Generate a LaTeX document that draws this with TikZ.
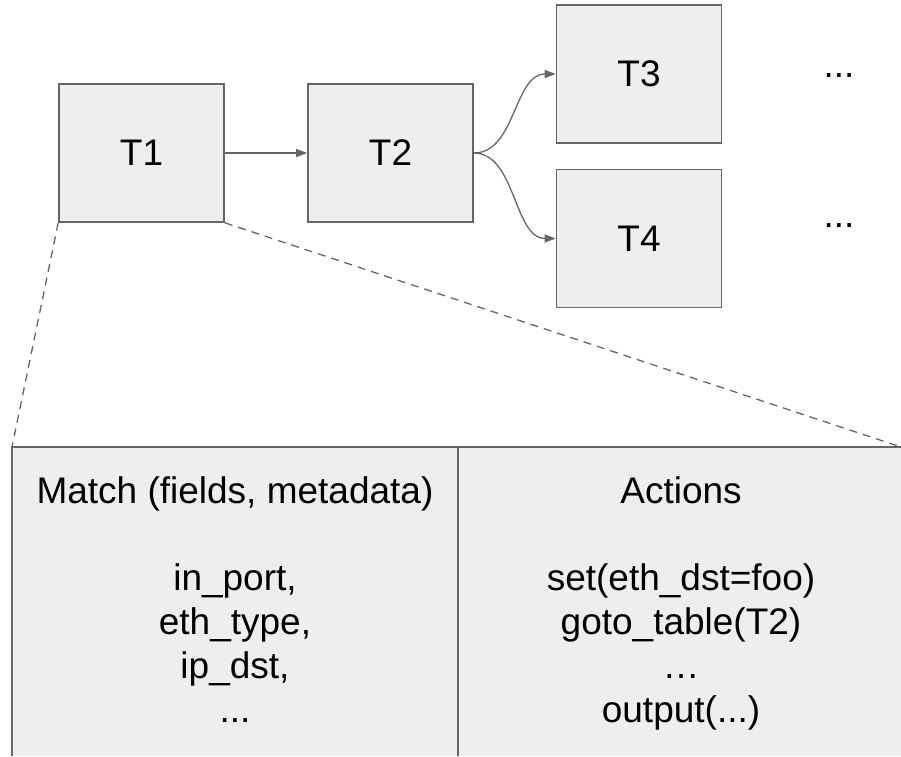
\documentclass[tikz,border=0pt]{standalone}
\usepackage{fontspec}
\setmainfont{Liberation Sans}
\usetikzlibrary{arrows.meta}
\definecolor{boxfill}{HTML}{EEEEEE}
\definecolor{edgegray}{HTML}{666666}
\begin{document}
\begin{tikzpicture}[x=1pt,y=-1pt,
  tbl/.style={draw=edgegray, fill=boxfill, line width=1.6pt, minimum width=165pt, minimum height=138pt, inner sep=0pt, font=\fontsize{37}{43}\selectfont},
  conn/.style={draw=edgegray, line width=1.3pt, -{Triangle[length=11pt,width=8pt]}},
  zoomline/.style={draw=edgegray, line width=1.3pt, dash pattern=on 8pt off 6pt},
  big/.style={font=\fontsize{37}{43.8}\selectfont, inner sep=0pt, align=center}]
\useasboundingbox (0,0) rectangle (901,756);
% flow table (bottom)
\coordinate (tl) at (12,447);
\coordinate (tr) at (901,447);
\coordinate (tm) at (458,447);
\coordinate (bl) at (12,756);
\coordinate (bm) at (458,756);
\fill[boxfill] (12,447) rectangle (901,756);
\draw[edgegray, line width=1.6pt] (bl) -- (tl) -- (tr);
\draw[edgegray, line width=1.6pt] (tm) -- (bm);
\node[big, anchor=north] (match) at (235,476) {Match (fields, metadata)\\ \\ in\_port,\\ eth\_type,\\ ip\_dst,\\ ...};
\node[big, anchor=north] (actions) at (681,476) {Actions\\ \\ set(eth\_dst=foo)\\ goto\_table(T2)\\ …\\ output(...)};
% tables
\node[tbl] (T1) at (141.5,153) {T1};
\node[tbl] (T2) at (390.5,153) {T2};
\node[tbl] (T3) at (639,74) {T3};
\node[tbl] (T4) at (639,238.5) {T4};
\node[big, anchor=base] (d3) at (839,77) {...};
\node[big, anchor=base] (d4) at (839,227) {...};
% connectors
\draw[conn] (T1.east) -- (T2.west);
\draw[conn] (T2.east) .. controls +(42,0) and +(-42,0) .. (T3.west);
\draw[conn] (T2.east) .. controls +(42,0) and +(-42,0) .. (T4.west);
% zoom lines
\draw[zoomline] (T1.south west) -- (tl);
\draw[zoomline] (T1.south east) -- (tr);
\end{tikzpicture}
\end{document}
